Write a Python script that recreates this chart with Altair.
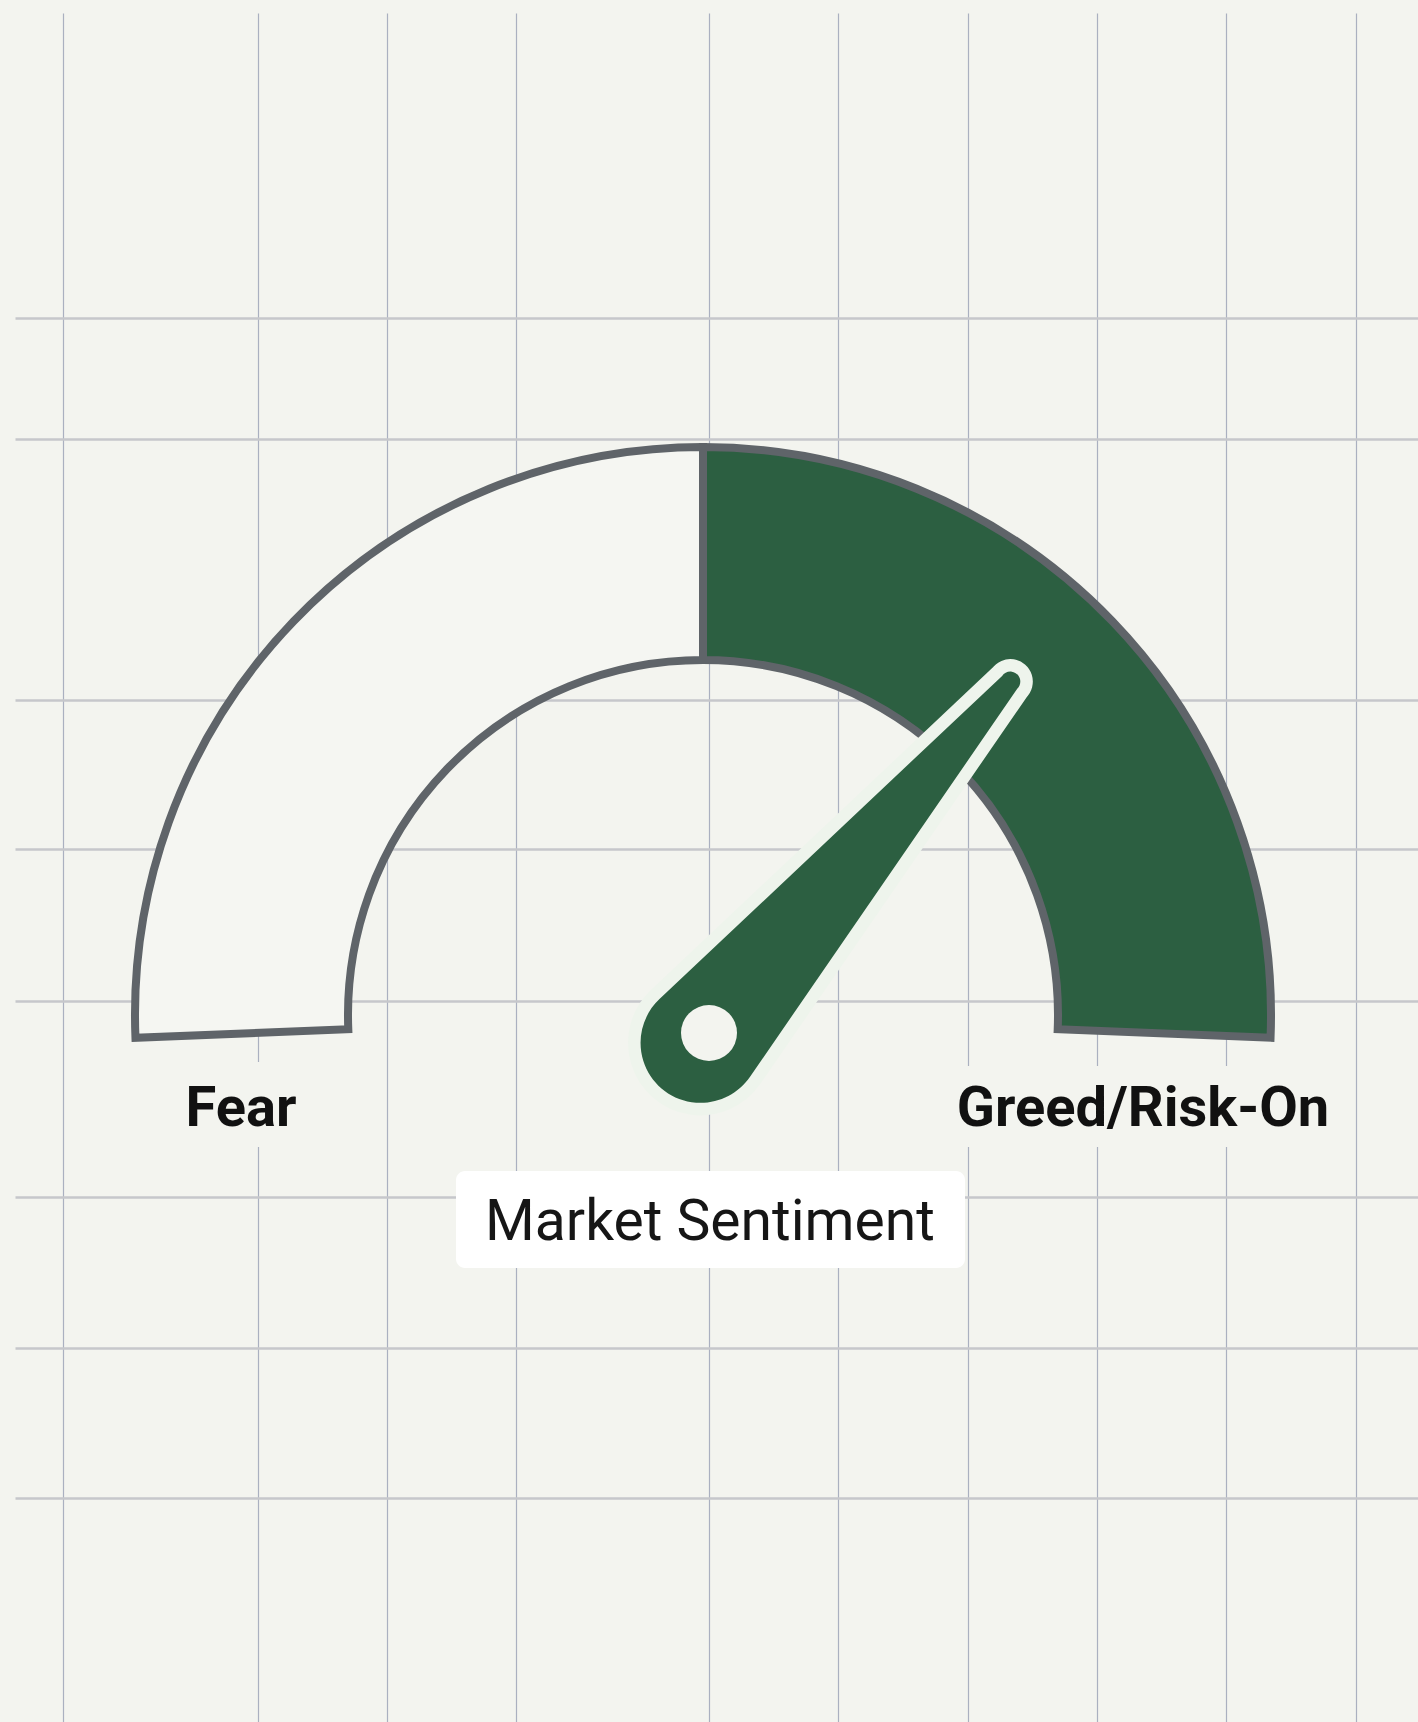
import math
import altair as alt
import pandas as pd

# ---------------- data ----------------
SEGMENT_LABELS = ["Fear", "Greed/Risk-On"]
SEGMENT_START = [0, 50]
SEGMENT_END = [50, 100]
NEEDLE_VALUE = [72]
CAPTION = ["Market Sentiment"]
# graph-paper grid (axis tick values, in page pixels)
GRID_X = [63, 258, 387, 516, 709, 838, 968, 1097, 1226, 1356]
GRID_Y = [318, 439, 700, 849, 1001, 1197, 1348, 1498]

# ---------------- style ----------------
W, H = 1418, 1722
PAD_L, PAD_T = 15, 13
BG = "#f3f4ef"
GREEN = "#2c5f41"
GRAY = "#5f6469"
LIGHT = "#f5f6f2"
OUTLINE = "#eef4ec"

CX, CY = 703 - PAD_L, 1015 - PAD_T        # gauge centre (plot coords)
PX, PY = 709 - PAD_L, 1033 - PAD_T        # needle pivot (plot coords)
R_OUT, R_IN = 568, 355
DELTA_DEG = 2.3

theta_scale = alt.Scale(
    domain=[0, 100],
    range=[1.5 * math.pi - math.radians(DELTA_DEG), 2.5 * math.pi + math.radians(DELTA_DEG)],
)
angle_scale = alt.Scale(domain=[0, 100], range=[270 - DELTA_DEG, 450 + DELTA_DEG])

# needle symbol (unit path, scaled by sqrt(size)/2)
NR = 500.0
c = 60 / NR
L = 463 / NR
t = 10 / NR
phi = math.asin((c - t) / L)
cp, sp = math.cos(phi), math.sin(phi)
NEEDLE_PATH = (
    f"M {c*cp:.4f} {c*sp:.4f} "
    f"L {t*cp:.4f} {-L + t*sp:.4f} "
    f"A {t:.4f} {t:.4f} 0 1 0 {-t*cp:.4f} {-L + t*sp:.4f} "
    f"L {-c*cp:.4f} {c*sp:.4f} "
    f"A {c:.4f} {c:.4f} 0 1 0 {c*cp:.4f} {c*sp:.4f} Z"
)
NEEDLE_SIZE = (2 * NR) ** 2

segments = pd.DataFrame({"label": SEGMENT_LABELS, "start": SEGMENT_START, "end": SEGMENT_END})
needle = pd.DataFrame({"value": NEEDLE_VALUE})
labels = pd.DataFrame({"label": SEGMENT_LABELS})
caption = pd.DataFrame({"text": CAPTION})

# ---------------- layers ----------------
grid = alt.Chart(pd.DataFrame({"gx": [GRID_X[0]], "gy": [GRID_Y[0]]})).mark_point(opacity=0).encode(
    x=alt.X(
        "gx:Q",
        title=None,
        scale=alt.Scale(domain=[PAD_L, W], nice=False, zero=False),
        axis=alt.Axis(values=GRID_X, grid=True, labels=False, ticks=False, domain=False,
                      gridColor="#aab0c0", gridWidth=1.2, gridOpacity=1),
    ),
    y=alt.Y(
        "gy:Q",
        title=None,
        scale=alt.Scale(domain=[PAD_T, H], nice=False, zero=False, reverse=True),
        axis=alt.Axis(values=GRID_Y, grid=True, labels=False, ticks=False, domain=False,
                      gridColor="#c6c7cb", gridWidth=2.6, gridOpacity=1),
    ),
)

gauge = alt.Chart(segments).mark_arc(
    stroke=GRAY, strokeWidth=8, radius=R_OUT, radius2=R_IN, strokeJoin="miter", opacity=1
).encode(
    theta=alt.Theta("start:Q", scale=theta_scale, stack=False),
    theta2="end:Q",
    color=alt.Color("label:N", scale=alt.Scale(domain=SEGMENT_LABELS, range=[LIGHT, GREEN]), legend=None),
    x=alt.value(CX),
    y=alt.value(CY),
)

needle_outline = alt.Chart(needle).mark_point(
    shape=NEEDLE_PATH, filled=True, fill=OUTLINE, stroke=OUTLINE, strokeWidth=25,
    strokeJoin="round", size=NEEDLE_SIZE, opacity=1, fillOpacity=1, strokeOpacity=1,
).encode(
    angle=alt.Angle("value:Q", scale=angle_scale),
    x=alt.value(PX),
    y=alt.value(PY),
)

needle_fill = alt.Chart(needle).mark_point(
    shape=NEEDLE_PATH, filled=True, fill=GREEN, strokeWidth=0,
    size=NEEDLE_SIZE, opacity=1, fillOpacity=1,
).encode(
    angle=alt.Angle("value:Q", scale=angle_scale),
    x=alt.value(PX),
    y=alt.value(PY),
)

hole = alt.Chart(needle).mark_point(
    shape="circle", filled=True, fill=BG, strokeWidth=0, size=56 ** 2, opacity=1, fillOpacity=1
).encode(x=alt.value(PX), y=alt.value(PY))

fear_halo = alt.Chart(labels).transform_filter(alt.datum.label == SEGMENT_LABELS[0]).mark_rect(
    fill=BG, opacity=1
).encode(x=alt.value(172 - PAD_L), x2=alt.value(312 - PAD_L), y=alt.value(1062 - PAD_T), y2=alt.value(1147 - PAD_T))

greed_halo = alt.Chart(labels).transform_filter(alt.datum.label == SEGMENT_LABELS[1]).mark_rect(
    fill=BG, opacity=1
).encode(x=alt.value(938 - PAD_L), x2=alt.value(1348 - PAD_L), y=alt.value(1066 - PAD_T), y2=alt.value(1147 - PAD_T))

fear_text = alt.Chart(labels).transform_filter(alt.datum.label == SEGMENT_LABELS[0]).mark_text(
    font="Roboto", fontWeight="bold", fontSize=56, color="#111111", align="center", baseline="alphabetic"
).encode(text="label:N", x=alt.value(241 - PAD_L), y=alt.value(1126 - PAD_T))

greed_text = alt.Chart(labels).transform_filter(alt.datum.label == SEGMENT_LABELS[1]).mark_text(
    font="Roboto", fontWeight="bold", fontSize=56, color="#111111", align="center", baseline="alphabetic"
).encode(text="label:N", x=alt.value(1143 - PAD_L), y=alt.value(1126 - PAD_T))

caption_box = alt.Chart(caption).mark_rect(fill="#ffffff", cornerRadius=9, opacity=1).encode(
    x=alt.value(456 - PAD_L), x2=alt.value(965 - PAD_L), y=alt.value(1171 - PAD_T), y2=alt.value(1268 - PAD_T)
)

caption_text = alt.Chart(caption).mark_text(
    font="Roboto", fontSize=57, color="#161616", align="center", baseline="alphabetic"
).encode(text="text:N", x=alt.value(710 - PAD_L), y=alt.value(1240 - PAD_T))

chart = alt.layer(
    grid, fear_halo, greed_halo, gauge, needle_outline, needle_fill, hole,
    fear_text, greed_text, caption_box, caption_text,
).properties(
    width=W - PAD_L,
    height=H - PAD_T,
    background=BG,
    padding={"left": PAD_L, "top": PAD_T, "right": 0, "bottom": 0},
    autosize=alt.AutoSizeParams(type="none"),
).configure_view(strokeWidth=0)

chart.save("out.html", embed_options={"renderer": "svg", "actions": False})
